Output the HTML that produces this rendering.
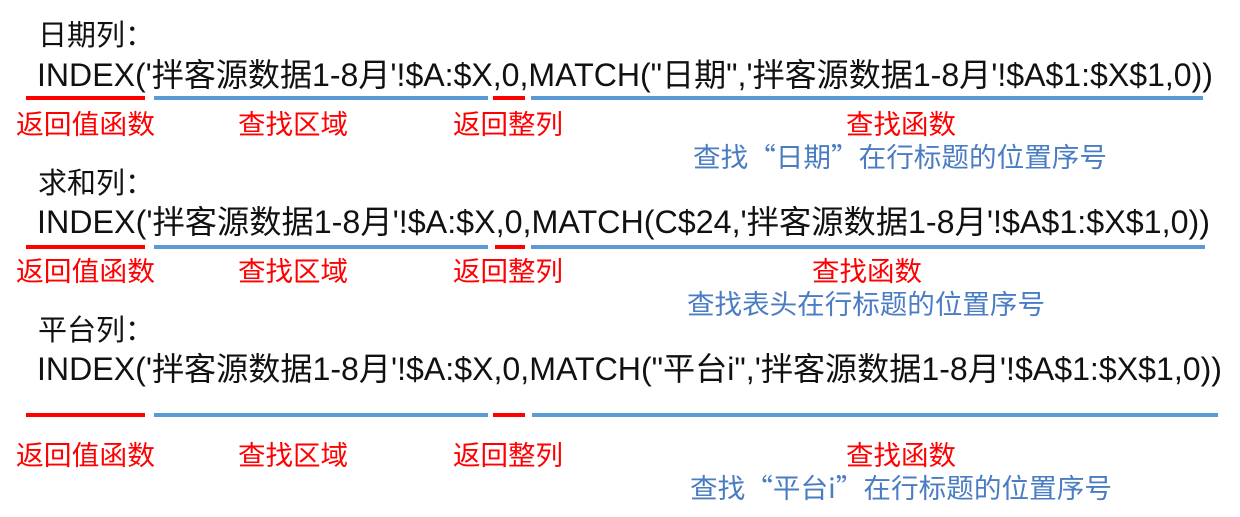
<!DOCTYPE html>
<html><head><meta charset="utf-8"><style>
html,body{margin:0;padding:0;background:#fff;width:1240px;height:517px;overflow:hidden}
text{font-family:"Liberation Sans","Noto Sans CJK SC",sans-serif}
.f{font-size:32px;fill:#111}
.t{font-size:29px;fill:#111;font-family:"Noto Sans CJK SC",sans-serif}
.r{font-size:27px;fill:#f00}
.b{font-size:27px;fill:#4a7cc4;font-family:"Noto Sans CJK SC",sans-serif}
</style></head><body>
<svg width="1240" height="517" xmlns="http://www.w3.org/2000/svg">
<text class="t" x="38" y="45">日期列：</text>
<text class="f" x="37" y="86" textLength="1176" lengthAdjust="spacingAndGlyphs">INDEX('拌客源数据1-8月'!$A:$X,0,MATCH("日期",'拌客源数据1-8月'!$A$1:$X$1,0))</text>
<rect x="26" y="96" width="119" height="4" fill="#f00"/>
<rect x="154" y="96" width="334" height="4" fill="#5b9bd5"/>
<rect x="493" y="96" width="32" height="4" fill="#f00"/>
<rect x="531" y="96" width="672" height="4" fill="#5b9bd5"/>
<text class="r" x="16" y="134" textLength="139" lengthAdjust="spacingAndGlyphs">返回值函数</text>
<text class="r" x="238" y="134" textLength="110" lengthAdjust="spacingAndGlyphs">查找区域</text>
<text class="r" x="453" y="134" textLength="110" lengthAdjust="spacingAndGlyphs">返回整列</text>
<text class="r" x="846" y="134" textLength="110" lengthAdjust="spacingAndGlyphs">查找函数</text>
<text class="b" x="693" y="167" textLength="414" lengthAdjust="spacingAndGlyphs">查找“日期”在行标题的位置序号</text>

<text class="t" x="38" y="193">求和列：</text>
<text class="f" x="37" y="233" textLength="1173" lengthAdjust="spacingAndGlyphs">INDEX('拌客源数据1-8月'!$A:$X,0,MATCH(C$24,'拌客源数据1-8月'!$A$1:$X$1,0))</text>
<rect x="26" y="245" width="119" height="4" fill="#f00"/>
<rect x="154" y="245" width="334" height="4" fill="#5b9bd5"/>
<rect x="495" y="245" width="30" height="4" fill="#f00"/>
<rect x="531" y="245" width="674" height="4" fill="#5b9bd5"/>
<text class="r" x="16" y="281" textLength="139" lengthAdjust="spacingAndGlyphs">返回值函数</text>
<text class="r" x="238" y="281" textLength="110" lengthAdjust="spacingAndGlyphs">查找区域</text>
<text class="r" x="453" y="281" textLength="110" lengthAdjust="spacingAndGlyphs">返回整列</text>
<text class="r" x="812" y="281" textLength="110" lengthAdjust="spacingAndGlyphs">查找函数</text>
<text class="b" x="687" y="314" textLength="358" lengthAdjust="spacingAndGlyphs">查找表头在行标题的位置序号</text>

<text class="t" x="38" y="340">平台列：</text>
<text class="f" x="37" y="380" textLength="1185" lengthAdjust="spacingAndGlyphs">INDEX('拌客源数据1-8月'!$A:$X,0,MATCH("平台i",'拌客源数据1-8月'!$A$1:$X$1,0))</text>
<rect x="26" y="413" width="119" height="4" fill="#f00"/>
<rect x="154" y="413" width="334" height="4" fill="#5b9bd5"/>
<rect x="493" y="413" width="32" height="4" fill="#f00"/>
<rect x="532" y="413" width="686" height="4" fill="#5b9bd5"/>
<text class="r" x="16" y="465" textLength="139" lengthAdjust="spacingAndGlyphs">返回值函数</text>
<text class="r" x="238" y="465" textLength="110" lengthAdjust="spacingAndGlyphs">查找区域</text>
<text class="r" x="453" y="465" textLength="110" lengthAdjust="spacingAndGlyphs">返回整列</text>
<text class="r" x="846" y="465" textLength="110" lengthAdjust="spacingAndGlyphs">查找函数</text>
<text class="b" x="690" y="498" textLength="422" lengthAdjust="spacingAndGlyphs">查找“平台i”在行标题的位置序号</text>
</svg>
</body></html>
